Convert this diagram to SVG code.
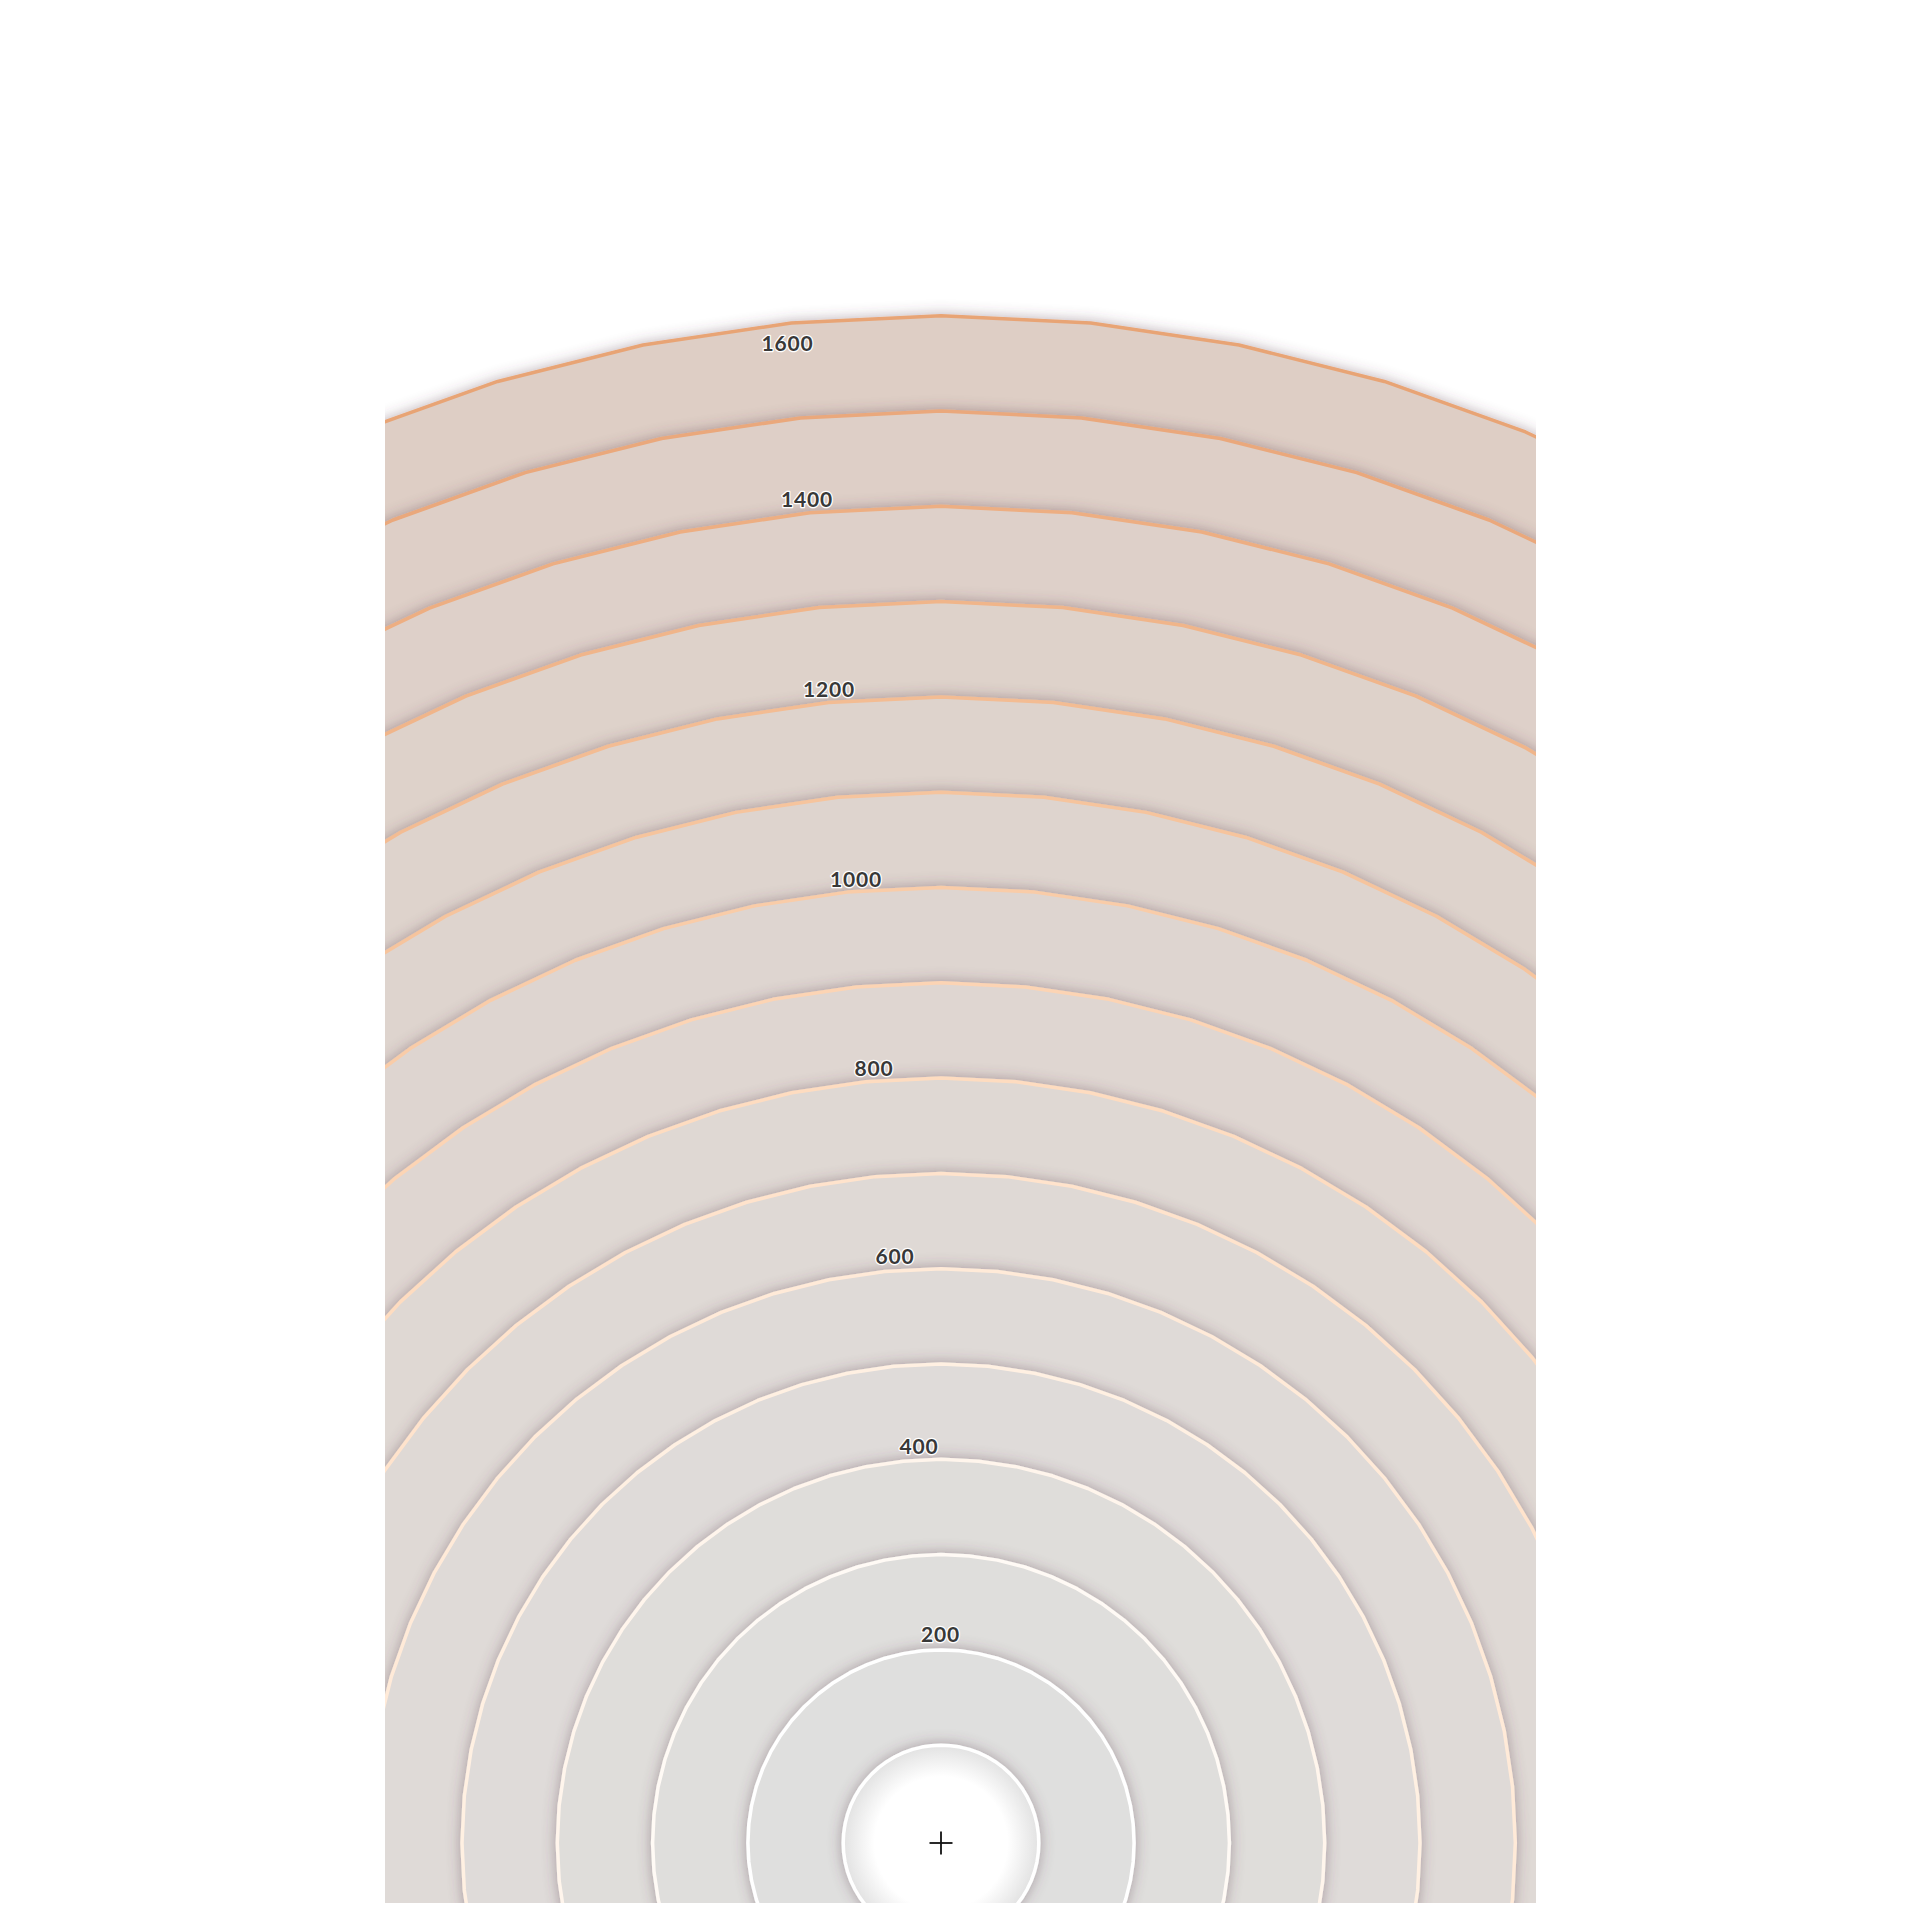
<svg xmlns="http://www.w3.org/2000/svg" xmlns:xlink="http://www.w3.org/1999/xlink" width="1920" height="1920" viewBox="0 0 1920 1920">
<style>
.lbl{font-family:"Lato","Liberation Sans",sans-serif;font-weight:700;font-size:21px;fill:#383838;stroke:#ffffff;stroke-width:2.5px;paint-order:stroke;stroke-linejoin:round;text-anchor:middle;letter-spacing:0.8px}
</style>
<defs>
<path id="p" d="M0,-1 L0.09802,-0.99518 L0.19509,-0.98079 L0.29028,-0.95694 L0.38268,-0.92388 L0.47140,-0.88192 L0.55557,-0.83147 L0.63439,-0.77301 L0.70711,-0.70711 L0.77301,-0.63439 L0.83147,-0.55557 L0.88192,-0.47140 L0.92388,-0.38268 L0.95694,-0.29028 L0.98079,-0.19509 L0.99518,-0.09802 L1,0 L0.99518,0.09802 L0.98079,0.19509 L0.95694,0.29028 L0.92388,0.38268 L0.88192,0.47140 L0.83147,0.55557 L0.77301,0.63439 L0.70711,0.70711 L0.63439,0.77301 L0.55557,0.83147 L0.47140,0.88192 L0.38268,0.92388 L0.29028,0.95694 L0.19509,0.98079 L0.09802,0.99518 L0,1 L-0.09802,0.99518 L-0.19509,0.98079 L-0.29028,0.95694 L-0.38268,0.92388 L-0.47140,0.88192 L-0.55557,0.83147 L-0.63439,0.77301 L-0.70711,0.70711 L-0.77301,0.63439 L-0.83147,0.55557 L-0.88192,0.47140 L-0.92388,0.38268 L-0.95694,0.29028 L-0.98079,0.19509 L-0.99518,0.09802 L-1,0 L-0.99518,-0.09802 L-0.98079,-0.19509 L-0.95694,-0.29028 L-0.92388,-0.38268 L-0.88192,-0.47140 L-0.83147,-0.55557 L-0.77301,-0.63439 L-0.70711,-0.70711 L-0.63439,-0.77301 L-0.55557,-0.83147 L-0.47140,-0.88192 L-0.38268,-0.92388 L-0.29028,-0.95694 L-0.19509,-0.98079 L-0.09802,-0.99518 Z" stroke-linejoin="round"/>
<filter id="sh" x="-10%" y="-10%" width="120%" height="120%">
<feDropShadow dx="0" dy="0" stdDeviation="7" flood-color="#5a3a50" flood-opacity="0.42"/>
</filter>
<radialGradient id="wg" cx="0.5" cy="0.5" r="0.5">
<stop offset="0" stop-color="#ffffff"/>
<stop offset="0.68" stop-color="#ffffff"/>
<stop offset="1" stop-color="#e2e2e2"/>
</radialGradient>
<clipPath id="clip"><rect x="385" y="0" width="1151" height="1903"/></clipPath>
</defs>
<rect width="1920" height="1920" fill="#ffffff"/>
<g id="rings" clip-path="url(#clip)">
<g id="ring-1600" filter="url(#sh)"><use xlink:href="#p" href="#p" transform="translate(941 1843) scale(1527.3)" fill="#decec5" stroke="#e8a475" stroke-width="0.00229"/></g>
<g id="ring-1500" filter="url(#sh)"><use xlink:href="#p" href="#p" transform="translate(941 1843) scale(1432)" fill="#decfc7" stroke="#eaa87b" stroke-width="0.00244"/></g>
<g id="ring-1400" filter="url(#sh)"><use xlink:href="#p" href="#p" transform="translate(941 1843) scale(1336.7)" fill="#ded0c9" stroke="#edae82" stroke-width="0.00261"/></g>
<g id="ring-1300" filter="url(#sh)"><use xlink:href="#p" href="#p" transform="translate(941 1843) scale(1241.4)" fill="#ded2ca" stroke="#f0b58a" stroke-width="0.00282"/></g>
<g id="ring-1200" filter="url(#sh)"><use xlink:href="#p" href="#p" transform="translate(941 1843) scale(1146.1)" fill="#ded3cc" stroke="#f3bc93" stroke-width="0.00306"/></g>
<g id="ring-1100" filter="url(#sh)"><use xlink:href="#p" href="#p" transform="translate(941 1843) scale(1050.8)" fill="#ded4ce" stroke="#f6c49d" stroke-width="0.00333"/></g>
<g id="ring-1000" filter="url(#sh)"><use xlink:href="#p" href="#p" transform="translate(941 1843) scale(955.5)" fill="#ded5d0" stroke="#f9cca8" stroke-width="0.00366"/></g>
<g id="ring-900" filter="url(#sh)"><use xlink:href="#p" href="#p" transform="translate(941 1843) scale(860.2)" fill="#dfd6d1" stroke="#fcd4b4" stroke-width="0.00407"/></g>
<g id="ring-800" filter="url(#sh)"><use xlink:href="#p" href="#p" transform="translate(941 1843) scale(764.9)" fill="#dfd8d3" stroke="#fedcc0" stroke-width="0.00457"/></g>
<g id="ring-700" filter="url(#sh)"><use xlink:href="#p" href="#p" transform="translate(941 1843) scale(669.6)" fill="#dfd9d5" stroke="#ffe3cc" stroke-width="0.00523"/></g>
<g id="ring-600" filter="url(#sh)"><use xlink:href="#p" href="#p" transform="translate(941 1843) scale(574.3)" fill="#dfdad7" stroke="#ffead8" stroke-width="0.00609"/></g>
<g id="ring-500" filter="url(#sh)"><use xlink:href="#p" href="#p" transform="translate(941 1843) scale(479)" fill="#dfdbd9" stroke="#fff0e2" stroke-width="0.00730"/></g>
<g id="ring-400" filter="url(#sh)"><use xlink:href="#p" href="#p" transform="translate(941 1843) scale(383.7)" fill="#dfddda" stroke="#fff5ec" stroke-width="0.00912"/></g>
<g id="ring-300" filter="url(#sh)"><use xlink:href="#p" href="#p" transform="translate(941 1843) scale(288.4)" fill="#dfdedc" stroke="#fffaf5" stroke-width="0.01213"/></g>
<g id="ring-200" filter="url(#sh)"><use xlink:href="#p" href="#p" transform="translate(941 1843) scale(193.1)" fill="#dfdfde" stroke="#ffffff" stroke-width="0.01813"/></g>
<g id="ring-100" filter="url(#sh)"><use xlink:href="#p" href="#p" transform="translate(941 1843) scale(97.8)" fill="url(#wg)" stroke="#ffffff" stroke-width="0.03578"/></g>
</g>
<g id="labels">
<text class="lbl" x="787.5" y="351">1600</text>
<text class="lbl" x="807" y="507">1400</text>
<text class="lbl" x="829" y="697">1200</text>
<text class="lbl" x="856" y="887">1000</text>
<text class="lbl" x="874" y="1076">800</text>
<text class="lbl" x="895" y="1264">600</text>
<text class="lbl" x="919" y="1454">400</text>
<text class="lbl" x="940.5" y="1642">200</text>
</g>
<g id="center" stroke="#111111" stroke-width="1.8" fill="none">
<line x1="929.5" y1="1843" x2="952.5" y2="1843"/>
<line x1="941" y1="1831.5" x2="941" y2="1854.5"/>
</g>
</svg>
